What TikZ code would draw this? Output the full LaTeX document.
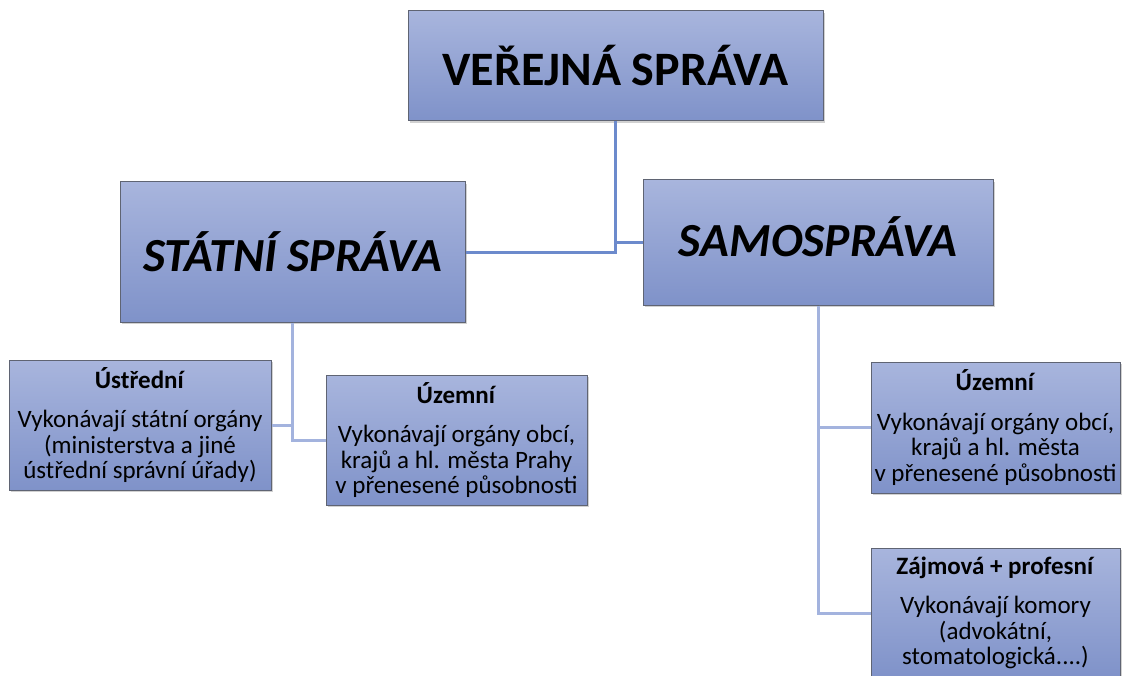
\documentclass[tikz,border=0pt]{standalone}
\usepackage{fontspec}
\setmainfont{Carlito}
\usetikzlibrary{positioning,shadows}
\definecolor{boxtop}{RGB}{168,181,221}
\definecolor{boxbottom}{RGB}{127,146,201}
\definecolor{boxedge}{RGB}{95,100,115}
\definecolor{linktop}{RGB}{108,138,204}
\definecolor{linklow}{RGB}{163,179,222}

\begin{document}
\begin{tikzpicture}[
    x=1pt, y=-1pt,
    box/.style={rectangle, draw=boxedge, line width=1pt, top color=boxtop, bottom color=boxbottom, inner sep=0pt, align=center, drop shadow={shadow xshift=2pt, shadow yshift=-2pt, opacity=0.3, fill=black!60}},
    mainbox/.style={box, font=\fontsize{48}{54}\selectfont\bfseries},
    branchbox/.style={box, font=\fontsize{47.5}{52}\selectfont\bfseries\itshape},
    leafbox/.style={box, font=\fontsize{25}{25.5}\selectfont},
    link/.style={line width=3pt, linklow},
    toplink/.style={line width=3pt, linktop}
]
\useasboundingbox (0,0) rectangle (1123,676);

% top level
\node[mainbox, minimum width=415pt, minimum height=110pt] (verejna) at (615.5,66) {VEŘEJNÁ SPRÁVA};

% second level
\node[branchbox, minimum width=345pt, minimum height=140pt] (statni) at (292.5,252) {STÁTNÍ SPRÁVA};
\node[branchbox, minimum width=350pt, minimum height=125pt, text depth=12pt] (samo) at (818,242.5) {SAMOSPRÁVA};

% state administration
\node[leafbox, minimum width=262pt, minimum height=130pt] (ustredni) at (140,425) {\textbf{Ústřední}\\[14pt]Vykonávají státní orgány\\(ministerstva a jiné\\ústřední správní úřady)};
\node[leafbox, minimum width=261pt, minimum height=130pt] (uzemniS) at (456.5,440) {\textbf{Územní}\\[14pt]Vykonávají orgány obcí,\\krajů a hl. města Prahy\\v přenesené působnosti};

% self-government
\node[leafbox, minimum width=249pt, minimum height=131pt] (uzemniR) at (995.5,427.5) {\textbf{Územní}\\[14pt]Vykonávají orgány obcí,\\krajů a hl. města\\v přenesené působnosti};
\node[leafbox, minimum width=249pt, minimum height=130pt] (zajmova) at (995.5,613) {\textbf{Zájmová + profesní}\\[14pt]Vykonávají komory\\(advokátní,\\stomatologická....)};

\draw[toplink] (verejna.south) |- (statni.east);
\draw[toplink] (verejna.south) |- (samo.west);
\draw[link] (statni.south) |- (ustredni.east);
\draw[link] (statni.south) |- (uzemniS.west);
\draw[link] (samo.south) |- (uzemniR.west);
\draw[link] (samo.south) |- (zajmova.west);

\end{tikzpicture}
\end{document}
